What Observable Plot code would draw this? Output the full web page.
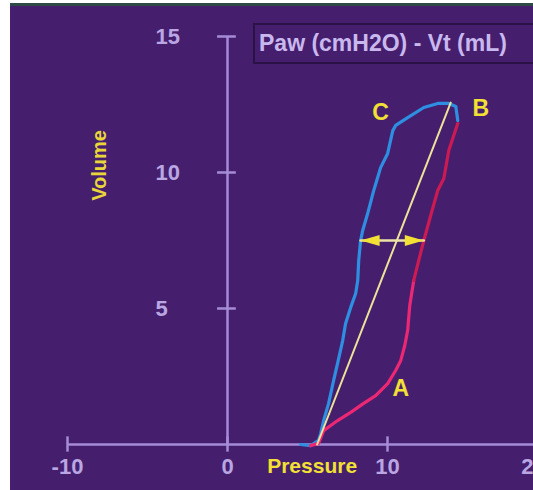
<!DOCTYPE html>
<html>
<head>
<meta charset="utf-8">
<script src="https://cdn.jsdelivr.net/npm/d3@7"></script>
<script src="https://cdn.jsdelivr.net/npm/@observablehq/plot@0.6"></script>
<style>
  html, body { margin: 0; padding: 0; background: #fff; overflow: hidden; }
  #wrap { position: relative; width: 533px; height: 490px; }
  #legend {
    position: absolute; left: 253px; top: 23px; width: 276px; height: 37px;
    border: 2px solid #2a1246; box-sizing: content-box;
    color: #c9b8ee; font: bold 23px "Liberation Sans", Arial, sans-serif;
    line-height: 37px; padding-left: 4px; white-space: nowrap; overflow: hidden;
  }
</style>
</head>
<body>
<div id="wrap">
  <div id="chart"></div>
  <div id="legend">Paw (cmH2O) - Vt (mL)</div>
</div>
<script>
// Pressure–volume loop: inflation limb (pink/red) and deflation limb (blue)
const xTicks = [-10, 0, 10, 20];
const yTicks = [5, 10, 15];

// Inflation limb, from the start of the breath up to peak volume
const inflationPressure = [5.19, 5.69, 6.01, 6.45, 6.88, 7.70, 8.51, 9.26, 10.01, 10.51, 10.83, 11.08, 11.26, 11.39, 11.64, 11.95, 12.27, 12.70, 13.14, 13.52, 13.83, 14.14, 14.39];
const inflationVolume   = [-0.04, 0.04, 0.51, 0.70, 0.88, 1.18, 1.51, 1.80, 2.24, 2.72, 3.09, 3.64, 4.19, 5.11, 6.03, 6.76, 7.50, 8.42, 9.34, 9.78, 10.81, 11.36, 11.80];

// Deflation limb, from peak volume back down to the baseline
const deflationPressure = [14.39, 14.27, 13.83, 13.14, 12.27, 11.26, 10.51, 10.33, 10.01, 9.57, 9.14, 8.76, 8.45, 8.32, 8.20, 8.14, 8.01, 7.70, 7.38, 7.20, 6.88, 6.63, 6.32, 6.01, 5.82, 5.69, 5.20, 4.57];
const deflationVolume   = [11.91, 12.43, 12.54, 12.54, 12.39, 12.02, 11.73, 11.54, 10.70, 10.18, 9.34, 8.49, 7.87, 7.50, 6.76, 6.03, 5.55, 5.04, 4.45, 3.82, 2.98, 2.35, 1.51, 0.88, 0.40, 0.15, -0.04, 0.00];

// Compliance line from the origin of the loop to peak point B
const compliancePressure = [5.6, 13.95];
const complianceVolume   = [0.0, 12.57];

// Hysteresis width measured at mid volume
const hysteresisVolume = 7.5;
const hysteresisPressure = [8.32, 12.27];

// Point labels
const pointNames    = ["A", "B", "C"];
const pointPressure = [10.83, 15.83, 9.57];
const pointVolume   = [2.06, 12.35, 12.21];

const zip = (ps, vs) => ps.map((p, i) => ({p, v: vs[i]}));
const inflation = zip(inflationPressure, inflationVolume);
const deflation = zip(deflationPressure, deflationVolume);
const compliance = zip(compliancePressure, complianceVolume);
const hysteresis = hysteresisPressure.map(p => ({p, v: hysteresisVolume}));
const points = pointNames.map((name, i) => ({name, p: pointPressure[i], v: pointVolume[i]}));

// Slim, elongated arrowhead with its tip at the origin, pointing right
const arrowHead = {
  draw(context) {
    context.moveTo(0, 0);
    context.lineTo(-19, -5.5);
    context.lineTo(-19, 5.5);
    context.closePath();
  }
};

const font = "Liberation Sans, Arial, sans-serif";
const axisColor = "#a68cd8";
const labelColor = "#b9a6e2";
const yellow = "#f2e034";

const chart = Plot.plot({
  width: 533,
  height: 490,
  marginTop: 0, marginRight: 0, marginBottom: 0, marginLeft: 0,
  x: {domain: [-10, 20], range: [67, 547], axis: null},
  y: {domain: [0, 15], range: [444, 36], axis: null},
  style: {
    background: "linear-gradient(to right, #ffffff 10px, transparent 10px), linear-gradient(to bottom, #ffffff 3px, #2d4a46 3px, #2d4a46 6px, #451f6e 6px)",
    overflow: "hidden"
  },
  marks: [
    // axes
    Plot.ruleY([0], {x1: -10, x2: 21, stroke: axisColor, strokeWidth: 2.5}),
    Plot.ruleX([0], {y1: 0, y2: 15, stroke: axisColor, strokeWidth: 2.5}),
    Plot.ruleX(xTicks, {x: d => d, y1: -0.28, y2: 0.28, stroke: axisColor, strokeWidth: 2.5}),
    Plot.ruleY(yTicks, {y: d => d, x1: -0.62, x2: 0.55, stroke: axisColor, strokeWidth: 2.5}),
    Plot.text(xTicks.filter(d => d < 20), {x: d => d, y: 0, text: d => String(d), dy: 22, fill: labelColor,
      fontFamily: font, fontWeight: "bold", fontSize: 22, textAnchor: "middle"}),
    // the last label sits at the right edge of the display and runs past it
    Plot.text(xTicks.filter(d => d >= 20), {x: d => d, y: 0, text: d => String(d), dy: 22, fill: labelColor,
      fontFamily: font, fontWeight: "bold", fontSize: 22, textAnchor: "middle", dx: -14}),
    Plot.text(yTicks, {x: 0, y: d => d, text: d => String(d), dx: -72, fill: labelColor,
      fontFamily: font, fontWeight: "bold", fontSize: 22, textAnchor: "start"}),
    // axis titles
    Plot.text(["Pressure"], {x: 5.29, y: 0, dy: 22, text: d => d, fill: yellow,
      fontFamily: font, fontWeight: "bold", fontSize: 21}),
    Plot.text(["Volume"], {x: -7.98, y: 10.26, text: d => d, rotate: -90, fill: "#e8d63a",
      fontFamily: font, fontWeight: "bold", fontSize: 20}),
    // loop
    Plot.line(deflation, {x: "p", y: "v", stroke: "#2e8fe2", strokeWidth: 3.2, curve: "linear"}),
    Plot.line(inflation.filter(d => d.v <= 6.1), {x: "p", y: "v", stroke: "#ec2773", strokeWidth: 3.2}),
    Plot.line(inflation.filter(d => d.v >= 6.0), {x: "p", y: "v", stroke: "#cc1a52", strokeWidth: 3.2}),
    Plot.line(compliance, {x: "p", y: "v", stroke: "#ece29a", strokeWidth: 2}),
    // hysteresis arrow
    Plot.line(hysteresis, {x: "p", y: "v", stroke: "#ece3a6", strokeWidth: 2.5}),
    Plot.dot(hysteresis, {x: "p", y: "v", symbol: arrowHead, fill: yellow, stroke: "none",
      rotate: d => d.p === hysteresisPressure[0] ? 180 : 0}),
    // point labels
    Plot.text(points, {x: "p", y: "v", text: "name", fill: yellow,
      fontFamily: font, fontWeight: "bold", fontSize: 23})
  ]
});

document.getElementById("chart").append(chart);
</script>
</body>
</html>
